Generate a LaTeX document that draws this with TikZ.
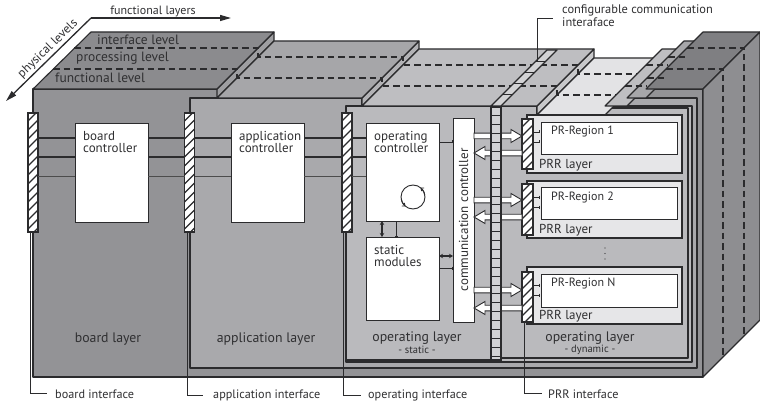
\documentclass[tikz,border=0pt]{standalone}
\usepackage{fontspec}
\setmainfont{PT Sans}
\usetikzlibrary{arrows.meta,calc}

\definecolor{edgeC}{HTML}{2B2B2D}
\definecolor{txtC}{HTML}{303032}
\definecolor{boardF}{HTML}{939396}
\definecolor{boardT}{HTML}{8B8B8E}
\definecolor{boardStep}{HTML}{9E9EA1}
\definecolor{boardSide}{HTML}{8E8E91}
\definecolor{boardTopR}{HTML}{7F7F82}
\definecolor{appF}{HTML}{A9A9AC}
\definecolor{appT}{HTML}{A6A6A9}
\definecolor{appStep}{HTML}{B2B2B5}
\definecolor{opF}{HTML}{BABABD}
\definecolor{opT}{HTML}{BEBEC1}
\definecolor{opStep}{HTML}{C8C8CA}
\definecolor{prrTop}{HTML}{E3E3E5}
\definecolor{prrFill}{HTML}{E6E6E8}
\definecolor{cellC}{HTML}{D3D3D5}

\newcommand\fsz[1]{\fontsize{#1}{#1}\selectfont}

% outlined block arrow pointing right: tail anchor, tip anchor, y
\newcommand\rblk[3]{%
  \draw[blk] (#1 |- 0,#3) ++(0,-2.8) -- ($(#2 |- 0,#3)+(-11,-2.8)$) -- ($(#2 |- 0,#3)+(-11,-6.5)$)
    -- (#2 |- 0,#3) -- ($(#2 |- 0,#3)+(-11,6.5)$) -- ($(#2 |- 0,#3)+(-11,2.8)$) -- ($(#1 |- 0,#3)+(0,2.8)$) -- cycle;}
% outlined block arrow pointing left: tip anchor, tail anchor, y
\newcommand\lblk[3]{%
  \draw[blk] (#2 |- 0,#3) ++(0,-2.8) -- ($(#1 |- 0,#3)+(11,-2.8)$) -- ($(#1 |- 0,#3)+(11,-6.5)$)
    -- (#1 |- 0,#3) -- ($(#1 |- 0,#3)+(11,6.5)$) -- ($(#1 |- 0,#3)+(11,2.8)$) -- ($(#2 |- 0,#3)+(0,2.8)$) -- cycle;}

\tikzset{
  face/.style={draw=edgeC, line width=1.1pt, line join=round},
  lvl/.style={draw=edgeC, line width=1.2pt, dash pattern=on 6.5pt off 4pt},
  ibar/.style={draw=edgeC, fill=white, line width=1.1pt, minimum width=10pt, inner sep=0pt, outer sep=0pt,
    path picture={\foreach \k in {1,...,18}{\draw[edgeC, line width=1.1pt]
      ([yshift={-\k*9pt+1pt}]path picture bounding box.north west) -- ++(14,-14);}}},
  ladder/.style={draw=edgeC, fill=cellC, line width=1.7pt, minimum width=10pt, inner sep=0pt, outer sep=0pt,
    path picture={\foreach \k in {1,...,29}{\draw[edgeC, line width=1pt]
      ([yshift={-\k*8.9pt}]path picture bounding box.north west) -- ++(12,0);}}},
  wbox/.style={draw=edgeC, fill=white, line width=0.9pt, inner sep=0pt, outer sep=0pt},
  prrframe/.style={draw=edgeC, fill=prrFill, line width=1.3pt, inner sep=0pt, outer sep=0pt,
    minimum width=155pt},
  tx/.style={text=txtC, inner sep=0pt},
  ctext/.style={tx, font=\fsz{13}, align=left, anchor=north west},
  lyr/.style={tx, font=\fsz{13.8}, anchor=base},
  sub/.style={tx, font=\fsz{10.5}, anchor=base},
  cal/.style={tx, font=\fsz{12.2}, anchor=base west},
  callout/.style={draw=edgeC, line width=0.8pt},
  blk/.style={draw=edgeC, fill=white, line width=0.9pt, line join=miter},
  dbl/.style={draw=edgeC, line width=1.3pt, {Stealth[length=4pt,width=4.5pt]}-{Stealth[length=4pt,width=4.5pt]}},
  tbar/.style={draw=edgeC, line width=0.6pt, {Bar[width=3pt]}-{Bar[width=3pt]}},
  tinyarr/.style={draw=edgeC, line width=0.5pt, {Bar[width=3pt]}-{Bar[width=3pt]}},
  axisarr/.style={draw=edgeC, line width=1.3pt, -{Triangle[length=11pt,width=6pt]}},
}

\begin{document}
\begin{tikzpicture}[x=1pt,y=-1pt]
\useasboundingbox[fill=white] (0,0) rectangle (760,401);

% ---------- front faces ----------
\path[face, fill=boardF] (33,89) rectangle (703,377);
\path[face, fill=appF] (190,98) -- (362,98) -- (362,106) -- (627,106) -- (627,98) -- (697,98) -- (697,368) -- (190,368) -- cycle;
\path[face, fill=opF] (346,106) -- (537,106) -- (537,115) -- (605,115) -- (605,106) -- (692,106) -- (692,362) -- (346,362) -- cycle;
\draw[face, fill=none] (605,108) -- (688,108) -- (688,358) -- (501,358);
\draw[face] (346,360) -- (491,360);

% ---------- top faces, left part ----------
\path[face, fill=boardStep] (217,89) -- (274,32) -- (274,41) -- (217,98) -- cycle;
\path[face, fill=boardT] (33,89) -- (91,32) -- (274,32) -- (217,89) -- cycle;
\path[face, fill=appStep] (362,98) -- (419,41) -- (419,49) -- (362,106) -- cycle;
\path[face, fill=appT] (217,98) -- (274,41) -- (419,41) -- (362,98) -- cycle;
\path[face, fill=opStep] (537,106) -- (594,49) -- (594,58) -- (537,115) -- cycle;
\path[face, fill=opT] (362,106) -- (419,49) -- (594,49) -- (537,106) -- cycle;

% ---------- top faces, right part ----------
\path[face, fill=prrTop] (537,115) -- (594,58) -- (662,58) -- (605,115) -- cycle;
\path[face, fill=opT] (605,106) -- (662,49) -- (684,49) -- (627,106) -- cycle;
\path[face, fill=appT] (627,98) -- (684,41) -- (703,41) -- (646,98) -- cycle;
\path[face, fill=boardTopR] (646,89) -- (703,32) -- (760,32) -- (703,89) -- cycle;
\path[face, fill=boardSide] (703,89) -- (760,32) -- (760,320) -- (703,377) -- cycle;

% ---------- physical level boundaries ----------
\foreach \t in {20,41}{
  \draw[lvl] (33+\t,89-\t) -- (217+\t,89-\t) -- (217+\t,98-\t) -- (362+\t,98-\t) -- (362+\t,106-\t)
    -- (537+\t,106-\t) -- (537+\t,115-\t) -- (596+\t,115-\t);
  \draw[lvl] (605+\t,106-\t) -- (627+\t,106-\t);
  \draw[lvl] (627+\t,98-\t) -- (646+\t,98-\t);
  \draw[lvl] (646+\t,89-\t) -- (703+\t,89-\t) -- (703+\t,377-\t);
}

% ---------- configurable communication interface strip on top ----------
\path[face, fill=cellC, line width=1.4pt] (491,106) -- (501,106) -- (557,50) -- (547,50) -- cycle;
\foreach \k in {1,...,4}{
  \draw[edgeC, line width=1pt] (491+\k*11.2,106-\k*11.2) -- (501+\k*11.2,106-\k*11.2);
}

% ---------- axis arrows ----------
\coordinate (ax) at (91,18);
\coordinate (axr) at (231,18);
\coordinate (axd) at (6,101);
\draw[axisarr] (ax) -- (axr);
\draw[axisarr] (ax) -- (axd);
\node[tx, font=\fsz{12}, anchor=base] (fl) at (153,15) {functional layers};
\node[tx, font=\fsz{12.5}, rotate=44] (pl) at (48,49) {physical levels};

% ---------- level names ----------
\node[tx, font=\fsz{13.5}, anchor=base west] (lv1) at (97,45) {interface level};
\node[tx, font=\fsz{13.5}, anchor=base west] (lv2) at (76,62) {processing level};
\node[tx, font=\fsz{13.5}, anchor=base west] (lv3) at (55,83) {functional level};

% ---------- signal rows ----------
\coordinate (s1) at (0,138);
\coordinate (s2) at (0,157);
\coordinate (s3) at (0,176);

% ---------- controllers ----------
\node[wbox, minimum width=73pt, minimum height=99pt] (bc) at (111.5,172.5) {};
\node[wbox, minimum width=73pt, minimum height=99pt] (ac) at (267.5,172.5) {};
\node[wbox, minimum width=73pt, minimum height=98pt] (oc) at (402.5,172) {};
\node[wbox, minimum width=73pt, minimum height=83pt] (sm) at (402.5,278.5) {};
\node[wbox, minimum width=21pt, minimum height=204pt] (cc) at (463.5,220) {};

% interface bars
\node[ibar, minimum height=119pt] (bb) at (33,172.5) {};
\node[ibar, minimum height=119pt] (ab) at (189.5,172.5) {};
\node[ibar, minimum height=119pt] (ob) at (347,172.5) {};

\foreach \a/\b in {bb/bc, bc/ab, ab/ac, ac/ob, ob/oc}{
  \draw[edgeC, line width=2.2pt] (\a.east |- s1) -- (\b.west |- s1);
  \draw[edgeC, line width=1.4pt] (\a.east |- s2) -- (\b.west |- s2);
  \draw[gray!60!black, line width=0.8pt] (\a.east |- s3) -- (\b.west |- s3);
}

\node[ctext] at ([xshift=8pt,yshift=-8pt]bc.north west) {board\\[-1pt]controller};
\node[ctext] at ([xshift=8pt,yshift=-8pt]ac.north west) {application\\[-1pt]controller};
\node[ctext] at ([xshift=8pt,yshift=-8pt]oc.north west) {operating\\[-1pt]controller};
\node[ctext] at ([xshift=8pt,yshift=-8pt]sm.north west) {static\\[-1pt]modules};
\node[tx, font=\fsz{13}, rotate=90] at (cc) {communication controller};

% rotating arrows in the operating controller
\coordinate (rot) at (413,197);
\draw[edgeC, line width=0.9pt] (rot) circle[radius=12pt];
\draw[edgeC, line width=0.9pt, -{Straight Barb[length=2.5pt,width=4pt]}] (rot) ++(10:12pt) arc[start angle=10, end angle=52, radius=12pt];
\draw[edgeC, line width=0.9pt, -{Straight Barb[length=2.5pt,width=4pt]}] (rot) ++(190:12pt) arc[start angle=190, end angle=232, radius=12pt];

% links among controllers
\draw[dbl] (oc.south -| 382,0) -- (sm.north -| 382,0);
\draw[tbar] (oc.south -| 396,0) -- (sm.north -| 396,0);
\draw[tbar] (oc.east |- 0,142) -- (cc.west |- 0,142);
\draw[dbl] (sm.east |- 0,256) -- (cc.west |- 0,256);
\draw[tbar] (sm.east |- 0,268) -- (cc.west |- 0,268);

% ---------- partially reconfigurable regions ----------
\node[prrframe, minimum height=58pt] (f1) at (604.5,144) {};
\node[prrframe, minimum height=57pt] (f2) at (604.5,209.5) {};
\node[prrframe, minimum height=57pt] (fN) at (604.5,295.5) {};
\node[wbox, minimum width=136pt, minimum height=32pt] (r1) at (609,138) {};
\node[wbox, minimum width=136pt, minimum height=32pt] (r2) at (609,203) {};
\node[wbox, minimum width=136pt, minimum height=33pt] (rN) at (609,290.5) {};
\node[tx, font=\fsz{12}, anchor=base west] at (551,135) {PR-Region 1};
\node[tx, font=\fsz{12}, anchor=base west] at (551,200) {PR-Region 2};
\node[tx, font=\fsz{12}, anchor=base west] at (551,286) {PR-Region N};
\node[tx, font=\fsz{13}, anchor=base west] at (539,168) {PRR layer};
\node[tx, font=\fsz{13}, anchor=base west] at (539,233) {PRR layer};
\node[tx, font=\fsz{13}, anchor=base west] at (539,319) {PRR layer};
\foreach \yy in {248,253.5,259}{\fill[txtC] (605,\yy) circle[radius=0.7pt];}

\node[ibar, minimum width=11pt, minimum height=50pt] (b1) at (527.5,144) {};
\node[ibar, minimum width=11pt, minimum height=51pt] (b2) at (527.5,209.5) {};
\node[ibar, minimum width=11pt, minimum height=50pt] (bN) at (527.5,297) {};
\foreach \b/\yy in {b1/132,b1/142,b2/197,b2/207,bN/285,bN/295}{
  \draw[tinyarr] (\b.east |- 0,\yy) -- ++(6,0);
}

% data paths between communication controller and regions
\rblk{cc.east}{b1.west}{136}
\lblk{cc.east}{b1.west}{153}
\rblk{cc.east}{b2.west}{200}
\lblk{cc.east}{b2.west}{217}
\rblk{cc.east}{bN.west}{290}
\lblk{cc.east}{bN.west}{308}

% communication ladder
\node[ladder, minimum height=253pt] (lad) at (496,233.5) {};

% ---------- layer names ----------
\node[lyr] at (108,342) {board layer};
\node[lyr] at (266,342) {application layer};
\node[lyr] at (417,341) {operating layer};
\node[sub] at (417,353) {- static -};
\node[lyr] at (590,341) {operating layer};
\node[sub] at (590,352) {- dynamic -};

% ---------- callouts ----------
\node[cal] (tb) at (55,398) {board interface};
\node[cal] (ta) at (213,398) {application interface};
\node[cal] (to) at (368,398) {operating interface};
\node[cal] (tp) at (548,398) {PRR interface};
\draw[callout] ([xshift=-3pt]bb.south) |- ([xshift=-8pt]tb.west);
\draw[callout] ([xshift=-2.5pt]ab.south) |- ([xshift=-10pt]ta.west);
\draw[callout] ([xshift=-4pt]ob.south) |- ([xshift=-7pt]to.west);
\draw[callout] ([xshift=-3.5pt]bN.south) |- ([xshift=-6pt]tp.west);

\coordinate (cci) at (537,62);
\coordinate (cce) at (553,18);
\draw[callout] (cci) |- (cce);
\node[tx, font=\fsz{12.4}, align=left, anchor=north west] (cfg) at (562,5) {configurable communication\\interaface};
\end{tikzpicture}
\end{document}
